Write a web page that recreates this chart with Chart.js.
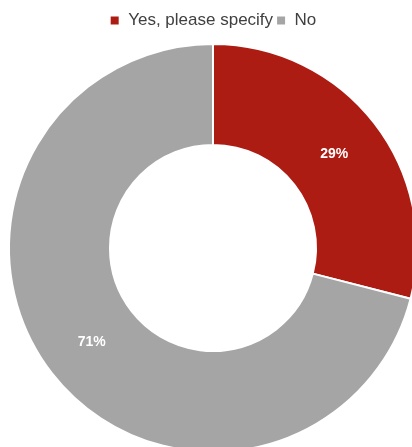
<!DOCTYPE html>
<html>
<head>
  <meta charset="utf-8">
  <title>Yes / No</title>
  <style type="text/css">
    html, body {
      margin: 0;
      padding: 0;
      background: #fff;
      overflow: hidden;
    }
    #wrap {
      position: relative;
      width: 426px;
      height: 457px;
    }
  </style>
  <script src="https://cdn.jsdelivr.net/npm/chart.js@4/dist/chart.umd.min.js"></script>
</head>
<body>
  <div id="wrap"><canvas id="chart"></canvas></div>
  <script>
    // data
    var LABELS = ['Yes, please specify', 'No'];
    var VALUES = [29, 71];
    var COLORS = ['#AD1C13', '#A5A5A5'];

    // percent labels drawn in the middle of each ring segment
    var sliceLabels = {
      id: 'sliceLabels',
      afterDatasetsDraw: function(chart) {
        var ctx = chart.ctx;
        var meta = chart.getDatasetMeta(0);
        ctx.save();
        ctx.fillStyle = '#fff';
        ctx.font = 'bold 14px "Liberation Sans", Arial, sans-serif';
        ctx.textAlign = 'center';
        ctx.textBaseline = 'middle';
        meta.data.forEach(function(arc, i) {
          var p = arc.tooltipPosition();
          ctx.fillText(VALUES[i] + '%', p.x, p.y);
        });
        ctx.restore();
      }
    };

    new Chart(document.getElementById('chart'), {
      type: 'doughnut',
      data: {
        labels: LABELS,
        datasets: [{
          data: VALUES,
          backgroundColor: COLORS,
          borderColor: '#fff',
          borderWidth: 2
        }]
      },
      options: {
        responsive: true,
        maintainAspectRatio: false,
        animation: false,
        cutout: '50.5%',
        layout: { padding: { top: 9, left: 8, right: 8, bottom: 0 } },
        plugins: {
          legend: {
            position: 'top',
            labels: {
              boxWidth: 10,
              boxHeight: 10,
              padding: 3,
              color: '#404040',
              font: { family: '"Liberation Sans", Arial, sans-serif', size: 17 }
            }
          },
          tooltip: { enabled: false }
        }
      },
      plugins: [sliceLabels]
    });
  </script>
</body>
</html>
